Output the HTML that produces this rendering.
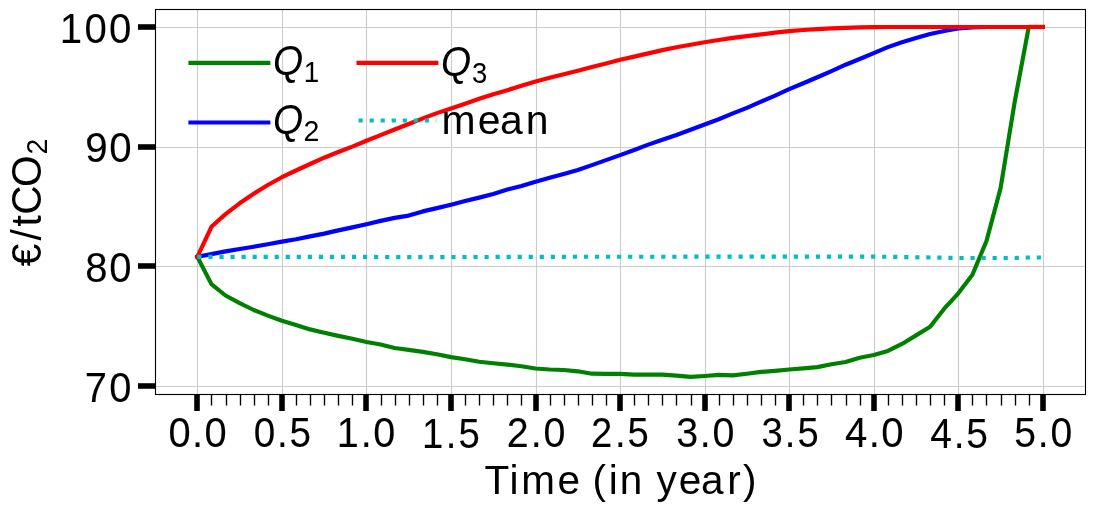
<!DOCTYPE html>
<html lang="en"><head><meta charset="utf-8"><title>Quantiles of the carbon price over time</title>
<style>html,body{margin:0;padding:0;background:#fff}body{width:1095px;height:511px;overflow:hidden}svg{display:block;will-change:transform}text{font-family:"Liberation Sans",sans-serif;fill:#000}.tk{stroke:#000;stroke-width:0.08px}.it{font-style:italic}</style></head><body>
<svg width="1095" height="511" viewBox="0 0 1095 511" role="img" aria-label="Line chart of carbon price quantiles Q1, Q2, Q3 and mean in euro per tonne CO2 over time in years">
<rect width="1095" height="511" fill="#fff"/>
<g stroke="#ccc" stroke-width="1.11" fill="none">
<line x1="197.5" x2="197.5" y1="9.5" y2="394.5"/>
<line x1="282.5" x2="282.5" y1="9.5" y2="394.5"/>
<line x1="366.5" x2="366.5" y1="9.5" y2="394.5"/>
<line x1="451.5" x2="451.5" y1="9.5" y2="394.5"/>
<line x1="536.5" x2="536.5" y1="9.5" y2="394.5"/>
<line x1="620.5" x2="620.5" y1="9.5" y2="394.5"/>
<line x1="705.5" x2="705.5" y1="9.5" y2="394.5"/>
<line x1="789.5" x2="789.5" y1="9.5" y2="394.5"/>
<line x1="874.5" x2="874.5" y1="9.5" y2="394.5"/>
<line x1="958.5" x2="958.5" y1="9.5" y2="394.5"/>
<line x1="1043.5" x2="1043.5" y1="9.5" y2="394.5"/>
<line x1="155.5" x2="1085.5" y1="27.5" y2="27.5"/>
<line x1="155.5" x2="1085.5" y1="147.5" y2="147.5"/>
<line x1="155.5" x2="1085.5" y1="266.5" y2="266.5"/>
<line x1="155.5" x2="1085.5" y1="386.5" y2="386.5"/>
</g>
<g fill="#000">
<rect x="194.22" y="394.5" width="5.56" height="16.5"/>
<rect x="279.22" y="394.5" width="5.56" height="16.5"/>
<rect x="363.22" y="394.5" width="5.56" height="16.5"/>
<rect x="448.22" y="394.5" width="5.56" height="16.5"/>
<rect x="533.22" y="394.5" width="5.56" height="16.5"/>
<rect x="617.22" y="394.5" width="5.56" height="16.5"/>
<rect x="702.22" y="394.5" width="5.56" height="16.5"/>
<rect x="786.22" y="394.5" width="5.56" height="16.5"/>
<rect x="871.22" y="394.5" width="5.56" height="16.5"/>
<rect x="955.22" y="394.5" width="5.56" height="16.5"/>
<rect x="1040.22" y="394.5" width="5.56" height="16.5"/>
<rect x="210.805" y="394.5" width="1.39" height="11"/>
<rect x="225.805" y="394.5" width="1.39" height="11"/>
<rect x="239.805" y="394.5" width="1.39" height="11"/>
<rect x="253.805" y="394.5" width="1.39" height="11"/>
<rect x="267.805" y="394.5" width="1.39" height="11"/>
<rect x="295.805" y="394.5" width="1.39" height="11"/>
<rect x="309.805" y="394.5" width="1.39" height="11"/>
<rect x="323.805" y="394.5" width="1.39" height="11"/>
<rect x="337.805" y="394.5" width="1.39" height="11"/>
<rect x="351.805" y="394.5" width="1.39" height="11"/>
<rect x="380.805" y="394.5" width="1.39" height="11"/>
<rect x="394.805" y="394.5" width="1.39" height="11"/>
<rect x="408.805" y="394.5" width="1.39" height="11"/>
<rect x="422.805" y="394.5" width="1.39" height="11"/>
<rect x="436.805" y="394.5" width="1.39" height="11"/>
<rect x="464.805" y="394.5" width="1.39" height="11"/>
<rect x="478.805" y="394.5" width="1.39" height="11"/>
<rect x="492.805" y="394.5" width="1.39" height="11"/>
<rect x="506.805" y="394.5" width="1.39" height="11"/>
<rect x="520.805" y="394.5" width="1.39" height="11"/>
<rect x="549.805" y="394.5" width="1.39" height="11"/>
<rect x="563.805" y="394.5" width="1.39" height="11"/>
<rect x="577.805" y="394.5" width="1.39" height="11"/>
<rect x="591.805" y="394.5" width="1.39" height="11"/>
<rect x="605.805" y="394.5" width="1.39" height="11"/>
<rect x="633.805" y="394.5" width="1.39" height="11"/>
<rect x="647.805" y="394.5" width="1.39" height="11"/>
<rect x="661.805" y="394.5" width="1.39" height="11"/>
<rect x="675.805" y="394.5" width="1.39" height="11"/>
<rect x="690.805" y="394.5" width="1.39" height="11"/>
<rect x="718.805" y="394.5" width="1.39" height="11"/>
<rect x="732.805" y="394.5" width="1.39" height="11"/>
<rect x="746.805" y="394.5" width="1.39" height="11"/>
<rect x="760.805" y="394.5" width="1.39" height="11"/>
<rect x="774.805" y="394.5" width="1.39" height="11"/>
<rect x="802.805" y="394.5" width="1.39" height="11"/>
<rect x="816.805" y="394.5" width="1.39" height="11"/>
<rect x="830.805" y="394.5" width="1.39" height="11"/>
<rect x="845.805" y="394.5" width="1.39" height="11"/>
<rect x="859.805" y="394.5" width="1.39" height="11"/>
<rect x="887.805" y="394.5" width="1.39" height="11"/>
<rect x="901.805" y="394.5" width="1.39" height="11"/>
<rect x="915.805" y="394.5" width="1.39" height="11"/>
<rect x="929.805" y="394.5" width="1.39" height="11"/>
<rect x="943.805" y="394.5" width="1.39" height="11"/>
<rect x="971.805" y="394.5" width="1.39" height="11"/>
<rect x="985.805" y="394.5" width="1.39" height="11"/>
<rect x="1000.805" y="394.5" width="1.39" height="11"/>
<rect x="1014.805" y="394.5" width="1.39" height="11"/>
<rect x="1028.805" y="394.5" width="1.39" height="11"/>
<rect x="138" y="24.22" width="17.5" height="5.56"/>
<rect x="138" y="144.22" width="17.5" height="5.56"/>
<rect x="138" y="263.22" width="17.5" height="5.56"/>
<rect x="138" y="383.22" width="17.5" height="5.56"/>
</g>
<g fill="none" stroke-width="4.17" stroke-linejoin="round" stroke-linecap="square">
<polyline stroke="#008000" points="197.34,256.8 211.43,284.1 225.52,295.5 239.62,303.1 253.71,310 267.8,315.6 281.89,320.7 295.98,325 310.08,329.4 324.17,332.7 338.26,335.85 352.35,338.8 366.44,342 380.54,344.5 394.63,348 408.72,349.9 422.81,351.9 436.9,354.3 451,357.1 465.09,359.2 479.18,361.8 493.27,363.3 507.36,364.6 521.46,366.3 535.55,368.5 549.64,369.5 563.73,370 577.82,371.3 591.92,373.7 606.01,373.8 620.1,373.8 634.19,374.7 648.28,374.7 662.38,374.7 676.47,375.6 690.56,376.9 704.65,376 718.74,374.9 732.84,375.4 746.93,373.8 761.02,371.9 775.11,370.8 789.2,369.5 803.3,368.4 817.39,367.1 831.48,364.2 845.57,362.04 859.66,357.79 873.76,355.03 887.85,350.97 901.94,343.91 916.03,335.36 930.12,326.8 944.22,308.7 958.31,293.3 972.4,274.7 986.49,241 1000.58,188.1 1014.68,102 1028.77,26.9 1042.86,26.9"/>
<polyline stroke="#00f" points="197.34,256.8 211.43,254.1 225.52,251.4 239.62,249 253.71,246.7 267.8,244.2 281.89,241.6 295.98,239.2 310.08,236.4 324.17,233.6 338.26,230.4 352.35,227.4 366.44,224.3 380.54,220.9 394.63,217.9 408.72,215.6 422.81,211.4 436.9,208.1 451,204.7 465.09,201 479.18,197.6 493.27,193.9 507.36,189.6 521.46,186 535.55,181.7 549.64,177.8 563.73,173.9 577.82,170 591.92,165.1 606.01,160.15 620.1,155.1 634.19,150 648.28,144.6 662.38,139.7 676.47,135 690.56,129.8 704.65,124.5 718.74,119.2 732.84,113.4 746.93,107.9 761.02,101.7 775.11,95.55 789.2,89.2 803.3,83.27 817.39,77.23 831.48,71.1 845.57,64.7 859.66,59 873.76,53.1 887.85,47.15 901.94,42.2 916.03,38.1 930.12,34 944.22,31 958.31,28.5 972.4,27.4 986.49,27 1000.58,27 1014.68,27 1028.77,27 1042.86,27"/>
<polyline stroke="#f00" points="197.34,256.8 211.43,226.8 225.52,214.1 239.62,203.3 253.71,193.7 267.8,185 281.89,177.2 295.98,170.5 310.08,164 324.17,157.7 338.26,152 352.35,146.65 366.44,140.8 380.54,135.13 394.63,129.47 408.72,124 422.81,118.37 436.9,113.13 451,108.4 465.09,103.65 479.18,98.8 493.27,94.27 507.36,90.15 521.46,85.83 535.55,81.6 549.64,77.78 563.73,74.27 577.82,70.65 591.92,66.93 606.01,63.52 620.1,59.8 634.19,56.6 648.28,53.4 662.38,50.1 676.47,47.3 690.56,44.7 704.65,42.2 718.74,40 732.84,37.9 746.93,36.1 761.02,34.4 775.11,32.67 789.2,31.15 803.3,30.03 817.39,29.1 831.48,28.45 845.57,27.8 859.66,27.45 873.76,27.2 887.85,27 901.94,27 916.03,27 930.12,27 944.22,27 958.31,27 972.4,27 986.49,27 1000.58,27 1014.68,27 1028.77,27 1042.86,27"/>
<polyline stroke="#00bfbf" stroke-linecap="butt" stroke-dasharray="4.17 6.875" points="197.34,256.8 211.43,256.8 225.52,256.8 239.62,256.8 253.71,256.8 267.8,256.8 281.89,256.8 295.98,256.8 310.08,256.8 324.17,256.8 338.26,256.8 352.35,256.86 366.44,256.92 380.54,256.98 394.63,257.04 408.72,257.1 422.81,257.08 436.9,257.06 451,257.04 465.09,257.02 479.18,257 493.27,256.96 507.36,256.92 521.46,256.88 535.55,256.84 549.64,256.8 563.73,256.79 577.82,256.78 591.92,256.77 606.01,256.76 620.1,256.75 634.19,256.74 648.28,256.73 662.38,256.72 676.47,256.71 690.56,256.7 704.65,256.6 718.74,256.6 732.84,256.6 746.93,256.6 761.02,256.6 775.11,256.6 789.2,256.6 803.3,256.6 817.39,256.6 831.48,256.6 845.57,256.6 859.66,256.6 873.76,256.6 887.85,256.8 901.94,257 916.03,257.25 930.12,257.5 944.22,257.75 958.31,258 972.4,258 986.49,258 1000.58,258 1014.68,258 1028.77,257.5 1042.86,257.5"/>
</g>
<rect x="155.5" y="9.5" width="930" height="385" fill="none" stroke="#000" stroke-width="1.11"/>
<g fill="none" stroke-width="4.17" stroke-linecap="square">
<line stroke="#008000" x1="190.5" x2="268.28" y1="62.79" y2="62.79"/>
<line stroke="#00f" x1="190.5" x2="268.28" y1="122.53" y2="122.53"/>
<line stroke="#f00" x1="358.53" x2="436.31" y1="62.79" y2="62.79"/>
<line stroke="#00bfbf" stroke-linecap="butt" stroke-dasharray="4.17 6.875" x1="358.53" x2="436.31" y1="120.53" y2="120.53"/>
</g>
<text class="tk" font-size="42.5" transform="matrix(0.9379 0 0 1 0 447.21)" x="179.57 204.67 217.95" y="0">0.0</text>
<text class="tk" font-size="42.5" transform="matrix(0.9106 0 0 1 0 447.21)" x="278.62 304.22 317.84" y="0">0.5</text>
<text class="tk" font-size="42.5" transform="matrix(0.9313 0 0 1 0 447.21)" x="361.58 387.26 400.92" y="0">1.0</text>
<text class="tk" font-size="42.5" transform="matrix(0.9026 0 0 1 0 447.95)" x="467.6 493.81 507.85" y="0">1.5</text>
<text class="tk" font-size="42.5" transform="matrix(0.9276 0 0 1 0 447.21)" x="546.35 572.29 585.88" y="0">2.0</text>
<text class="tk" font-size="42.5" transform="matrix(0.8997 0 0 1 0 447.21)" x="656.99 683.47 697.43" y="0">2.5</text>
<text class="tk" font-size="42.5" transform="matrix(0.9276 0 0 1 0 447.21)" x="729.03 754.41 768.05" y="0">3.0</text>
<text class="tk" font-size="42.5" transform="matrix(0.9001 0 0 1 0 447.21)" x="846.06 871.97 885.96" y="0">3.5</text>
<text class="tk" font-size="42.5" transform="matrix(0.9439 0 0 1 0 447.21)" x="895.3 920.4 933.68" y="0">4.0</text>
<text class="tk" font-size="42.5" transform="matrix(0.9171 0 0 1 0 447.95)" x="1014.42 1040.01 1053.62" y="0">4.5</text>
<text class="tk" font-size="42.5" transform="matrix(0.9212 0 0 1 0 447.21)" x="1100.9 1126.65 1140.43" y="0">5.0</text>
<text class="tk" font-size="42.5" transform="matrix(0.9459 0 0 1 0 42.99)" x="63.08 89.31 115.32" y="0">100</text>
<text class="tk" font-size="42.5" transform="matrix(0.9481 0 0 1 0 161.99)" x="89.93 115.3" y="0">90</text>
<text class="tk" font-size="42.5" transform="matrix(0.9421 0 0 1 0 281.99)" x="90.56 116.07" y="0">80</text>
<text class="tk" font-size="42.5" transform="matrix(0.9388 0 0 1 0 401.99)" x="90.39 116.39" y="0">70</text>
<text font-size="40.9" transform="matrix(0.9904 0 0 1 0 493.70)" x="489.22 514.47 526.42 562.98 586.25 598.37 614.69 625.66 649.28 662.93 685.35 707.7 734.41 750.28" y="0">Time (in year)</text>
<text font-size="40.9" transform="matrix(0.9991 0 0 1 0 133.92)" x="441.83 478.26 500.52 526.22" y="0">mean</text>
<text class="it" font-size="42.6" transform="matrix(0.9109 0 0 1 0 75.27)" x="299.8" y="0">Q</text>
<text font-size="29.3" transform="matrix(0.9499 0 0 1 0 81.92)" x="319.9" y="0">1</text>
<text class="it" font-size="42.6" transform="matrix(0.9109 0 0 1 0 134.27)" x="299.8" y="0">Q</text>
<text font-size="29.3" transform="matrix(0.9739 0 0 1 0 141.10)" x="311.69" y="0">2</text>
<text class="it" font-size="42.6" transform="matrix(0.9109 0 0 1 0 76.27)" x="484.23" y="0">Q</text>
<text font-size="29.3" transform="matrix(0.9358 0 0 1 0 82.91)" x="504.33" y="0">3</text>
<text font-size="42.5" transform="matrix(0 -0.9580 1 0 40.88 266.00)" x="-0.19 26.56 41.16 53.59 82.6" y="0">€/tCO</text>
<text font-size="29.3" transform="matrix(0 -0.9739 1 0 46.50 153.00)" x="-1.47" y="0">2</text>
</svg></body></html>
